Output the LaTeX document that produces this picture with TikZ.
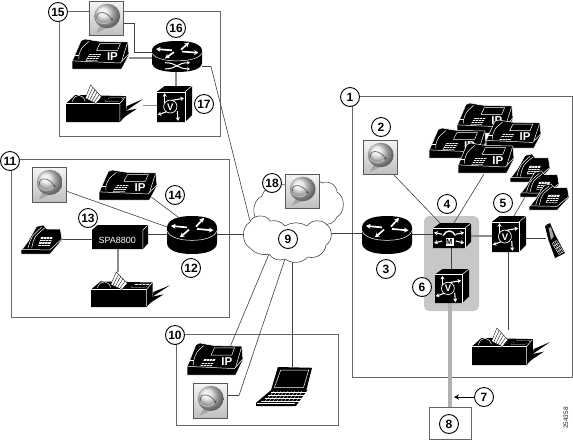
\documentclass[tikz,border=0pt]{standalone}
\usepackage{fontspec}
\setmainfont{Liberation Sans}
\usetikzlibrary{calc,arrows.meta}
\pgfdeclarelayer{bg}\pgfdeclarelayer{conn}
\pgfsetlayers{bg,conn,main}
\tikzset{
  devbox/.style={inner sep=0pt,outer sep=0pt,draw=none},
  num/.style={circle,draw=black,line width=.9pt,fill=white,minimum size=19pt,inner sep=0pt,font=\bfseries\fontsize{12}{12}\selectfont},
  link/.style={draw=black!75,line width=.6pt},
  glink/.style={draw=black!45,line width=1.1pt},
  grp/.style={draw=black!60,line width=.9pt},
  wl/.style={draw=white,line width=.5pt},
  bl/.style={draw=black,line width=.35pt},
  wa/.style={draw=white,line width=1.1pt,-{Stealth[length=3.6pt,width=4.2pt]}},
  ra/.style={draw=white,line width=1.7pt,-{Stealth[length=4.5pt,width=5pt]}},
  cloudline/.style={draw=black!70,line width=.6pt,fill=white},
}
\newcommand\dev[6]{%
  \node[devbox,minimum width=#4pt,minimum height=#5pt] (#1) at (#2,#3) {};
  \begin{scope}[shift={(#2-#4/2,#3+#5/2)},x=#4pt,y=#5pt]\csname art#6\endcsname\end{scope}}
\newcommand\keypad[4]{% x0 y0 width height (skewed)
  \fill[white] (#1,#2)--(#1+#3,#2)--(#1+#3+.07,#2+#4)--(#1+.07,#2+#4)--cycle;
  \foreach \t in {.25,.5,.75}{
    \draw[bl] (#1+\t*#3,#2)--(#1+\t*#3+.07,#2+#4);
    \draw[bl] (#1+.07*\t,#2+\t*#4)--(#1+#3+.07*\t,#2+\t*#4);}}
\newcommand\artIP{%
  \filldraw[fill=black,wl] (0,0)--(.87,0)--(1,.47)--(.98,.9)--(.49,.92)--(.38,.95)--(.23,1)--(.16,.95)--(.04,.42)--(0,.25)--cycle;
  \draw[wl] (.02,.27)--(.85,.2)--(.995,.5);
  \draw[wl] (.12,.32)--(.12,.45) .. controls (.16,.7) .. (.3,.92);
  \draw[wl] (.05,.45)--(.12,.45);
  \filldraw[fill=black,wl] (.49,.85)--(.85,.85)--(.8,.62)--(.43,.62)--cycle;
  \draw[wl] (.87,.25)--(.97,.85);
  \keypad{.24}{.28}{.2}{.22}
  \node[text=white,inner sep=0pt,font=\bfseries\fontsize{11.5}{11.5}\selectfont] at (.71,.42) {IP};}
\newcommand\artFax{%
  \fill (0,0)--(.7,0)--(.78,.18)--(.78,.7)--(.12,.73)--(0,.5)--cycle;
  \draw[wl] (.7,.02)--(.7,.5)--(.77,.68);
  \draw[wl] (0,.5)--(.7,.5);
  \fill (.78,.3)--(1,.62)--(.79,.43)--cycle;
  \fill (.72,.08)--(.92,.36)--(.78,.3)--cycle;
  \draw[wl] (.08,.55) .. controls (.12,.8) and (.22,.75) .. (.25,.56);
  \filldraw[fill=white,bl] (.25,.64)--(.32,1)--(.46,.68)--(.39,.5)--cycle;
  \foreach \t in {.2,.4,.6,.8}{\draw[bl] (.25+.14*\t,.64-.14*\t)--(.32+.14*\t,1-.32*\t);}
  \keypad{.5}{.56}{.18}{.1}}
\newcommand\routerbody{%
  \fill (0,.3) .. controls (0,.1) and (.2,0) .. (.5,0) .. controls (.8,0) and (1,.1) .. (1,.3) -- (1,.68) .. controls (1,.9) and (.8,1) .. (.5,1) .. controls (.2,1) and (0,.9) .. (0,.68) -- cycle;
  \draw[wl] (.005,.6) .. controls (.06,.44) and (.25,.36) .. (.5,.36) .. controls (.75,.36) and (.94,.44) .. (.995,.6);
  \draw[ra] (.4,.7)--(.08,.74);
  \draw[ra] (.58,.72)--(.74,.95);
  \draw[ra] (.44,.64)--(.26,.44);
  \draw[ra] (.6,.66)--(.93,.62);}
\newcommand\artRouter{\routerbody}
\newcommand\artRouterX{\routerbody
  \draw[draw=white,line width=1pt,-{Stealth[length=3pt,width=3.5pt]}] (.26,.1) .. controls (.5,.1) and (.5,.3) .. (.76,.3);
  \draw[draw=white,line width=1pt,-{Stealth[length=3pt,width=3.5pt]}] (.26,.3) .. controls (.5,.3) and (.5,.1) .. (.76,.1);}
\newcommand\artV{%
  \fill (0,0)--(.8,0)--(1,.19)--(1,1)--(.22,1)--(0,.84)--cycle;
  \draw[wl] (0,.84)--(.8,.84)--(.8,0);
  \draw[wl] (.8,.84)--(1,1);
  \draw[wa] (.22,.52)--(.22,.8);
  \draw[wa] (.42,.6)--(.77,.66);
  \draw[wa] (.26,.28)--(.02,.2);
  \draw[wa] (.58,.3)--(.6,.03);
  \draw[draw=white,line width=.7pt] (.38,.43) circle[x radius=.19,y radius=.18];
  \node[text=white,inner sep=0pt,font=\bfseries\fontsize{9.5}{9.5}\selectfont] at (.38,.42) {V};}
\newcommand\artM{%
  \fill (0,0)--(.84,0)--(1,.25)--(1,1)--(.19,1)--(0,.79)--cycle;
  \draw[wl] (0,.79)--(.84,.79)--(.84,0);
  \draw[wl] (.84,.79)--(1,1);
  \filldraw[fill=white,draw=black,line width=.4pt] (.31,.06) rectangle (.55,.44);
  \node[text=black,inner sep=0pt,font=\bfseries\fontsize{7.5}{7.5}\selectfont] at (.43,.25) {M};
  \draw[draw=white,line width=1.4pt] (.27,.5) .. controls (.35,.74) and (.51,.74) .. (.59,.5);
  \draw[wa] (.24,.55)--(.03,.62);
  \draw[wa] (.24,.28)--(.03,.2);
  \draw[wa] (.6,.55)--(.82,.62);
  \draw[wa] (.6,.28)--(.82,.2);}
\newcommand\artSpa{%
  \fill (0,0)--(.91,0)--(1,.23)--(1,1)--(.1,1)--(0,.79)--cycle;
  \draw[wl] (.91,.02)--(.91,.79)--(.99,.98);
  \node[text=white,inner sep=0pt,font=\fontsize{9}{9}\selectfont] at (.45,.37) {SPA8800};}
\newcommand\artPhone{%
  \filldraw[fill=black,wl] (0,0)--(.71,0)--(1,.48)--(.96,.86)--(.63,.86)--(.55,1)--(.38,.95)--(.17,.43)--(.05,.2)--(0,.14)--cycle;
  \draw[wl] (.01,.16)--(.7,.14)--(.98,.5);
  \draw[wl] (.17,.2) .. controls (.25,.6) .. (.5,.92);
  \draw[wl] (.26,.2) .. controls (.32,.6) .. (.58,.9);
  \keypad{.42}{.28}{.28}{.3}}
\newcommand\artCell{%
  \fill (.08,.95)--(.25,1)--(.5,.67)--(1,.14)--(.5,0)--(.17,.52)--(0,.9)--cycle;
  \fill[black!35] (.18,.86)--(.3,.88)--(.44,.62)--(.3,.52)--cycle;
  \foreach \t in {0,.25,.5,.75,1}{\draw[wl,line width=.4pt] (.36+.34*\t,.42-.32*\t)--(.58+.34*\t,.5-.32*\t);}
  \foreach \t in {0,.33,.66,1}{\draw[wl,line width=.4pt] (.36+.22*\t,.42+.08*\t)--(.7+.22*\t,.1+.08*\t);}}
\newcommand\artLaptop{%
  \fill (.39,1)--(1,.98)--(.9,.41)--(.27,.41)--cycle;
  \draw[wl] (.44,.92)--(.94,.92)--(.85,.48)--(.33,.48)--cycle;
  \fill (.27,.41)--(.92,.41)--(.72,.02)--(.72,0)--(0,0)--(0,.08)--cycle;
  \foreach \t in {.12,.2,.28,.36}{\draw[wl,line width=.4pt] (.76*\t+.0,\t)--(.72+.5*\t,\t);}
  \foreach \t in {.1,.2,.3,.4,.5,.6,.7,.8,.9}{\draw[wl,line width=.3pt] (.08+.7*\t,.1)--(.26+.62*\t,.38);}
  \draw[wl] (.02,.07)--(.7,.07);}
\newcommand\artMail{%
  \shade[top color=black!4,bottom color=black!25] (0,0) rectangle (1,1);
  \draw[draw=black!65,line width=.7pt] (0,0) rectangle (1,1);
  \fill[black!35] (.32,.3)--(.2,.06)--(.5,.2)--cycle;
  \shade[ball color=black!12] (.52,.56) circle[x radius=.38,y radius=.36];
  \draw[draw=black!60,line width=.7pt] (.22,.5) .. controls (.18,.72) and (.5,.72) .. (.66,.46);
  \draw[draw=black!25,line width=.9pt] (.2,.44) .. controls (.28,.3) and (.55,.3) .. (.62,.42);
  \fill[black!75] (.66,.46) circle[x radius=.03,y radius=.03];}
\begin{document}
\begin{tikzpicture}[x=1pt,y=-1pt]
\useasboundingbox (0,0) rectangle (573,440);
\begin{pgfonlayer}{bg}
  \fill[white] (0,0) rectangle (573,440);
  \draw[grp] (59,11.5) rectangle (220,136);
  \draw[grp] (11,159) rectangle (229,317);
  \draw[grp] (176,334) rectangle (338,425);
  \draw[grp] (352,96) -- (572,96) -- (572,377) -- (352,377) -- cycle;
  \fill[black!22,rounded corners=5pt] (424,216) rectangle (479,311);
\end{pgfonlayer}
% clouds
\node[devbox,minimum width=89pt,minimum height=46pt] (c18) at (298.5,204) {};
\node[devbox,minimum width=89pt,minimum height=44pt] (c9) at (286.5,237) {};
\draw[cloudline] (259,222) to[bend left=60] (262,196) to[bend left=60] (290,188) to[bend left=50] (322,183) to[bend left=60] (337,192) to[bend left=60] (337,217) to[bend left=40] (323,224) to[bend left=20] (273,222) to[bend left=30] cycle;
\draw[cloudline] (250,248) to[bend left=60] (250,222) to[bend left=70] (270,221) to[bend left=30] (285,226) to[bend left=30] (307,226) to[bend left=50] (326,224) to[bend left=60] (326,245) to[bend left=50] (308,257) to[bend left=40] (285,259) to[bend left=40] (269,254) to[bend left=30] cycle;
% group 15
\dev{vm15}{106.5}{18}{34}{34}{Mail}
\dev{ip15}{100.5}{54}{57}{30}{IP}
\dev{r16}{177}{56.5}{50}{31}{RouterX}
\dev{fax15}{104.5}{103.5}{77}{37}{Fax}
\dev{v17}{174.5}{104}{35}{36}{V}
% group 11
\dev{vm11}{49}{184.5}{34}{35}{Mail}
\dev{ip11}{128}{185}{58}{30}{IP}
\dev{r12}{192}{235}{50}{38}{Router}
\dev{ph11}{41.5}{239.5}{41}{29}{Phone}
\dev{spa}{120}{237}{56}{24}{Spa}
\dev{fax11}{130.5}{289.5}{79}{35}{Fax}
% group 10
\dev{ip10}{215}{359}{56}{32}{IP}
\dev{vm10}{210}{400.5}{34}{35}{Mail}
\dev{lap}{284}{386.5}{56}{39}{Laptop}
\dev{vm18}{302}{191}{34}{34}{Mail}
% group 1
\dev{vm2}{380}{157}{34}{34}{Mail}
\dev{r3}{387}{235}{50}{38}{Router}
\dev{ipa}{485}{118}{56}{30}{IP}
\dev{ipb}{513.5}{134}{55}{28}{IP}
\dev{ipc}{457.5}{143}{57}{30}{IP}
\dev{ipd}{486}{158}{56}{30}{IP}
\dev{pha}{530}{168}{40}{28}{Phone}
\dev{phb}{539.5}{184}{39}{26}{Phone}
\dev{phc}{549}{197}{40}{26}{Phone}
\dev{m4}{452}{235.5}{38}{25}{M}
\dev{v5}{509}{234}{34}{36}{V}
\dev{cell}{555}{240.5}{20}{35}{Cell}
\dev{v6}{452}{286}{34}{34}{V}
\dev{fax1}{511}{346.5}{78}{37}{Fax}
\node[devbox,draw=black!60,line width=.8pt,fill=white,minimum width=42pt,minimum height=32pt] (b8) at (450,423) {};
% numbers
\node[num] (n1) at (350,97) {1};
\node[num] (n2) at (381,127) {2};
\node[num] (n3) at (386,269) {3};
\node[num] (n4) at (447,204) {4};
\node[num] (n5) at (503,203) {5};
\node[num] (n6) at (422,287) {6};
\node[num] (n7) at (484,397) {7};
\node[num] (n8) at (449,424) {8};
\node[num] (n9) at (288,239) {9};
\node[num] (n10) at (175,335) {10};
\node[num] (n11) at (10,161) {11};
\node[num] (n12) at (191,268) {12};
\node[num] (n13) at (88,218) {13};
\node[num] (n14) at (175,195) {14};
\node[num] (n15) at (58,12) {15};
\node[num] (n16) at (176,28) {16};
\node[num] (n17) at (204,104) {17};
\node[num] (n18) at (272,183) {18};
\node[rotate=90,inner sep=0pt,font=\fontsize{6.5}{6.5}\selectfont,text=black!85] (code) at (566,418) {254358};
% connectors
\begin{pgfonlayer}{conn}
\draw[link] ($(vm15.east)+(0,5)$) -- ++(10.5,0) |- ($(r16.west)+(0,-4)$);
\draw[glink] ($(ip15.east)+(0,4)$) -- ($(r16.west)+(0,1.5)$);
\draw[glink] ($(r16.south)+(-1,0)$) -- ($(v17.north)+(1.5,0)$);
\draw[glink] ($(fax15.east)+(0,2)$) -- ($(v17.west)+(0,1.5)$);
\draw[link] ($(r16.east)+(0,10)$) -- ++(9,0) -- ($(c9.north west)+(8,6)$);
\draw[link] ($(ph11.east)$) -- ($(spa.west)+(0,2.5)$);
\draw[link] ($(spa.east)+(0,-3)$) -- ($(r12.west)+(0,-1)$);
\draw[glink] ($(spa.south)+(-2,0)$) -- ($(fax11.north)+(-12.5,0)$);
\draw[link] ($(ip11.south east)+(-7,-4)$) -- ($(r12.north)+(-14,1)$);
\draw[link] ($(vm11.east)+(0,6.5)$) -- ($(r12.west)+(3,-7)$);
\draw[link] ($(r12.east)+(0,-1)$) -- ($(c9.west)+(3,-3)$);
\draw[link] ($(c9.east)+(-3,-4)$) -- ($(r3.west)+(0,-2)$);
\draw[link] ($(vm2.south)+(13,0)$) -- ($(m4.north)+(-12,0)$);
\draw[link] ($(ipd.south)+(-2,1)$) -- ($(m4.north)+(2,0)$);
\draw[link] ($(r3.east)+(0,-1)$) -- ($(m4.west)+(0,-1.5)$);
\draw[glink] ($(m4.east)+(0,.5)$) -- ($(v5.west)+(0,2)$);
\draw[link] ($(v5.east)+(0,4)$) -- ($(cell.west)+(1,-2.5)$);
\draw[link] ($(m4.south)+(-1,0)$) -- ($(v6.north)+(-1,0)$);
\draw[link] ($(v5.south)+(-1,0)$) -- ($(fax1.north)+(-3,2)$);
\draw[link] ($(v5.north)+(5,0)$) -- ($(phb.south)+(-14.5,0)$);
\draw[draw=black!30,line width=4.5pt] ($(v6.south)+(-2,0)$) -- (b8.north);
\draw[-{Stealth[length=5pt,width=5pt]},black,line width=.7pt] (n7.west) -- ($(b8.north)+(4,-10)$);
\draw[link] ($(c9.south)+(-17.5,-5)$) -- ($(ip10.north)+(15,4)$);
\draw[link] ($(c9.south)+(-1.5,0)$) -- ($(vm10.east)+(12,-5)$) -- ($(vm10.east)+(0,-5)$);
\draw[link] ($(c9.south)+(5.5,0)$) -- ($(lap.north)+(8,0)$);
\end{pgfonlayer}
\end{tikzpicture}
\end{document}
